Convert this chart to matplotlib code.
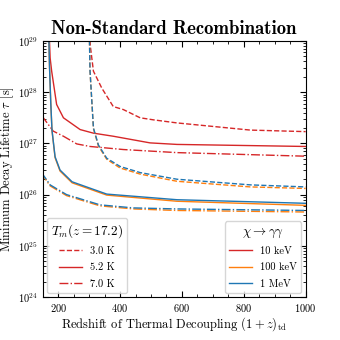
import matplotlib
matplotlib.use("Agg")
from matplotlib import pyplot as plt
from matplotlib.lines import Line2D

plt.rcParams['font.family'] = 'serif'
plt.rcParams['font.serif'] = ['cmr10']
plt.rcParams['mathtext.fontset'] = 'cm'
plt.rcParams['axes.formatter.use_mathtext'] = True

RED = '#d62728'
ORANGE = '#ff7f0e'
BLUE = '#1f77b4'

# 10 keV curves (log10 tau)
red_30_x = [301, 304, 314, 341, 378, 411, 465, 508, 584, 821, 1000]
red_30_y = [29.3, 28.9, 28.41, 28.08, 27.72, 27.66, 27.50, 27.46, 27.40, 27.26, 27.23]
red_52_x = [170, 174, 179, 195, 217, 271, 314, 378, 497, 584, 1000]
red_52_y = [29.3, 28.67, 28.41, 27.76, 27.50, 27.27, 27.20, 27.14, 27.01, 26.98, 26.94]
red_70_x = [150, 152, 184, 217, 260, 303, 411, 584, 1000]
red_70_y = [27.55, 27.50, 27.24, 27.14, 26.99, 26.94, 26.88, 26.82, 26.75]

# 1 MeV curves
blue_30_x = [300, 301, 303, 314, 330, 357, 400, 465, 584, 821, 1000]
blue_30_y = [29.3, 29.06, 28.41, 27.30, 26.97, 26.71, 26.55, 26.43, 26.30, 26.19, 26.15]
blue_52_x = [169, 172, 176, 180, 190, 206, 245, 357, 584, 1000]
blue_52_y = [29.3, 28.5, 27.8, 27.26, 26.74, 26.48, 26.25, 26.01, 25.90, 25.83]
blue_70_x = [150, 152, 174, 227, 335, 443, 584, 1000]
blue_70_y = [26.45, 26.38, 26.19, 26.00, 25.80, 25.74, 25.72, 25.69]

# 100 keV curves
orange_30_y = [29.3, 29.06, 28.41, 27.29, 26.95, 26.69, 26.52, 26.40, 26.26, 26.15, 26.12]
orange_52_y = [29.3, 28.5, 27.8, 27.25, 26.72, 26.46, 26.23, 25.99, 25.87, 25.79]
orange_70_y = [26.43, 26.36, 26.17, 25.98, 25.78, 25.72, 25.69, 25.66]

temps = ['3.0 K', '5.2 K', '7.0 K']
masses = ['10 keV', '100 keV', '1 MeV']
styles = ['--', '-', '-.']

fig = plt.figure(figsize=(3.4, 3.4), dpi=100)
ax = fig.add_axes([0.1256, 0.1265, 0.7734, 0.7529])

lw = 1.0
for xs, ys, ls in [(red_30_x, red_30_y, '--'), (red_52_x, red_52_y, '-'), (red_70_x, red_70_y, '-.')]:
    ax.plot(xs, [10 ** v for v in ys], color=RED, ls=ls, lw=lw)
for xs, ys, ls in [(blue_30_x, orange_30_y, '--'), (blue_52_x, orange_52_y, '-'), (blue_70_x, orange_70_y, '-.')]:
    ax.plot(xs, [10 ** v for v in ys], color=ORANGE, ls=ls, lw=lw)
for xs, ys, ls in [(blue_30_x, blue_30_y, '--'), (blue_52_x, blue_52_y, '-'), (blue_70_x, blue_70_y, '-.')]:
    ax.plot(xs, [10 ** v for v in ys], color=BLUE, ls=ls, lw=lw)

ax.set_yscale('log')
ax.set_xlim(150, 1000)
ax.set_ylim(1e24, 1e29)
ax.set_xticks([200, 400, 600, 800, 1000])
ax.tick_params(which='both', direction='in', top=True, right=True, labelsize=7.5)
ax.tick_params(which='major', length=4)
ax.tick_params(which='minor', length=2)
ax.xaxis.set_minor_locator(matplotlib.ticker.AutoMinorLocator(4))

ax.set_xlabel(r'Redshift of Thermal Decoupling $(1+z)_{\rm td}$', fontsize=9, labelpad=1)
ax.set_ylabel(r'Minimum Decay Lifetime $\tau$ [s]', fontsize=9, labelpad=1)
ax.set_title('Non-Standard Recombination', fontfamily='cmb10', fontsize=13.5, pad=5)

h1 = [Line2D([], [], color=RED, ls=s, lw=lw) for s in styles]
leg1 = ax.legend(h1, temps, title=r'$T_m(z=17.2)$', loc='lower left', fontsize=7.5,
                 title_fontsize=9.5, frameon=True, borderaxespad=0.4, labelspacing=0.65,
                 handlelength=2.2)
ax.add_artist(leg1)
h2 = [Line2D([], [], color=c, ls='-', lw=lw) for c in [RED, ORANGE, BLUE]]
ax.legend(h2, masses, title=r'$\chi\rightarrow\gamma\gamma$', loc='lower right', fontsize=7.5,
          title_fontsize=9.5, frameon=True, borderaxespad=0.4, labelspacing=0.65,
          handlelength=2.2)

plt.savefig('out.png', dpi=100)
